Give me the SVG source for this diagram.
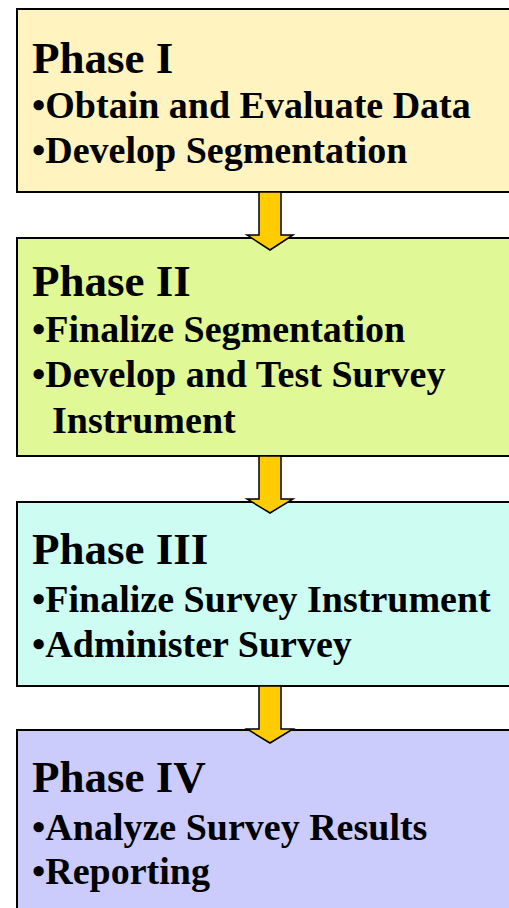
<svg xmlns="http://www.w3.org/2000/svg" width="509" height="908" viewBox="0 0 509 908">
<style>
.box{stroke:#000;stroke-width:2}
.t{font-family:"Liberation Serif","Times New Roman",serif;font-weight:bold;fill:#000}
.h{font-size:45px}
.b{font-size:38px}
.arr{fill:#FFCC00;stroke:#000;stroke-width:1.5;stroke-linejoin:miter}
</style>
<rect width="509" height="908" fill="#fff"/>
<g id="phase1">
<rect class="box" x="17" y="9" width="510" height="183" fill="#FFF4C0"/>
<text class="t h" x="32" y="73">Phase I</text>
<text class="t b" x="32" y="118">•Obtain and Evaluate Data</text>
<text class="t b" x="32" y="163">•Develop Segmentation</text>
</g>
<g id="phase2">
<rect class="box" x="17" y="238" width="510" height="218" fill="#E0F896"/>
<text class="t h" x="32" y="296">Phase II</text>
<text class="t b" x="32" y="342">•Finalize Segmentation</text>
<text class="t b" x="32" y="387">•Develop and Test Survey</text>
<text class="t b" x="52" y="433">Instrument</text>
</g>
<g id="phase3">
<rect class="box" x="17" y="502" width="510" height="184" fill="#CCFCF2"/>
<text class="t h" x="32" y="564">Phase III</text>
<text class="t b" x="32" y="612">•Finalize Survey Instrument</text>
<text class="t b" x="32" y="657">•Administer Survey</text>
</g>
<g id="phase4">
<rect class="box" x="17" y="730" width="510" height="200" fill="#CCCCFC"/>
<text class="t h" x="32" y="792">Phase IV</text>
<text class="t b" x="32" y="840">•Analyze Survey Results</text>
<text class="t b" x="32" y="884">•Reporting</text>
</g>
<g id="connectors">
<polygon class="arr" points="259,192 281,192 281,235 293,235 270,250 247,235 259,235"/>
<polygon class="arr" points="259,456 281,456 281,499 293,499 270,513 247,499 259,499"/>
<polygon class="arr" points="259,686 281,686 281,729 293,729 270,743 247,729 259,729"/>
</g>
</svg>
